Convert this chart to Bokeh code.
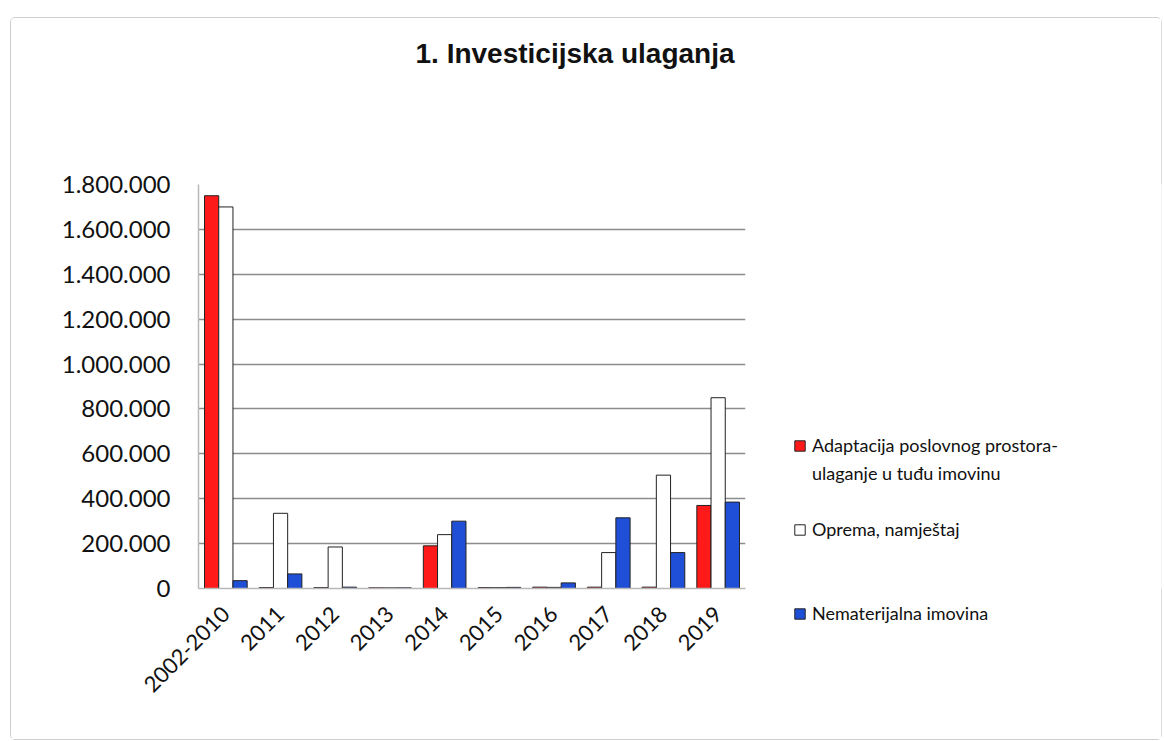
from bokeh.plotting import figure
from bokeh.layouts import row
from bokeh.models import FactorRange, FixedTicker, Legend, LegendItem, Range1d
from bokeh.transform import dodge
from bokeh.embed import file_html
from bokeh.resources import INLINE
import math

categories = ["2002-2010", "2011", "2012", "2013", "2014", "2015", "2016", "2017", "2018", "2019"]
adaptacija = [1750000, 4000, 4000, 3000, 190000, 4000, 6000, 6000, 6000, 370000]
oprema = [1700000, 335000, 185000, 3000, 240000, 4000, 5000, 160000, 505000, 850000]
nematerijalna = [35000, 65000, 6000, 3000, 300000, 5000, 25000, 315000, 160000, 385000]
legend_lines = ["Adaptacija poslovnog prostora-", "ulaganje u tuđu imovinu", "Oprema, namještaj", "Nematerijalna imovina"]
series_colors = ["#ff1a1a", "#ffffff", "#1f4fd6"]
y_ticks = [0, 200000, 400000, 600000, 800000, 1000000, 1200000, 1400000, 1600000, 1800000]
y_tick_labels = ["0", "200.000", "400.000", "600.000", "800.000", "1.000.000", "1.200.000", "1.400.000", "1.600.000", "1.800.000"]
chart_title = "1. Investicijska ulaganja"

data = dict(cat=categories, a=adaptacija, o=oprema, n=nematerijalna)

p = figure(x_range=FactorRange(*categories, range_padding=0), y_range=(0, 1800000),
           width=744, height=721, output_backend="svg", toolbar_location=None,
           min_border_left=187, min_border_right=10, min_border_top=166, min_border_bottom=151,
           title=chart_title + "\n \n ")

p.outline_line_color = None
p.border_fill_color = "white"
p.background_fill_color = "white"
p.title.align = "left"
p.title.offset = 217
p.title.standoff = 0
p.title.text_line_height = 1.87
p.title.text_font = "Liberation Sans"
p.title.text_font_style = "bold"
p.title.text_font_size = "28px"
p.title.text_color = "#111111"

for key, off, color in zip(["a", "o", "n"], [-0.26, 0.0, 0.26], series_colors):
    p.vbar(x=dodge("cat", off, range=p.x_range), top=key, width=0.26, source=data,
           fill_color=color, line_color="#222222", line_width=1)

p.xgrid.grid_line_color = None
p.ygrid.grid_line_color = "#8c8c8c"
p.ygrid.grid_line_width = 1.6
p.yaxis.ticker = FixedTicker(ticks=y_ticks)
p.yaxis.major_label_overrides = {t: l for t, l in zip(y_ticks, y_tick_labels)}
p.yaxis.axis_line_color = "#b8b8b8"
p.yaxis.axis_line_width = 1.5
p.yaxis.major_tick_out = 0
p.yaxis.major_tick_in = 0
p.yaxis.minor_tick_line_color = None
p.yaxis.major_label_standoff = 28
p.yaxis.major_label_text_font = "Lato"
p.yaxis.major_label_text_font_size = "24px"
p.yaxis.major_label_text_color = "#111111"

p.xaxis.axis_line_color = "#b8b8b8"
p.xaxis.axis_line_width = 1.5
p.xaxis.major_tick_line_color = None
p.xaxis.minor_tick_line_color = None
p.xaxis.major_label_orientation = math.pi / 4
p.xaxis.major_label_standoff = 16
p.xaxis.major_label_text_font = "Lato"
p.xaxis.major_label_text_font_size = "22px"
p.xaxis.major_label_text_color = "#111111"

# legend panel on the right, hosted in its own axis-less figure;
# its key renderers use the same data but lie outside its (empty) view
lg = figure(width=406, height=721, output_backend="svg", toolbar_location=None,
            x_axis_type=None, y_axis_type=None, min_border=0,
            x_range=Range1d(-2, -1), y_range=Range1d(-2, -1))
lg.outline_line_color = None
lg.border_fill_color = "white"
lg.background_fill_color = "white"
keys = [lg.vbar(x=k, top=k, width=0.1, source=data, fill_color=c, line_color="#222222", line_width=1)
        for k, c in zip(["a", "o", "n"], series_colors)]
blank = lg.vbar(x="a", top="a", width=0.1, source=data, fill_alpha=0, line_alpha=0)

items = [LegendItem(label=legend_lines[0], renderers=[keys[0]]),
         LegendItem(label=legend_lines[1], renderers=[blank]),
         LegendItem(label=" ", renderers=[blank]),
         LegendItem(label=legend_lines[2], renderers=[keys[1]]),
         LegendItem(label=" ", renderers=[blank]),
         LegendItem(label=" ", renderers=[blank]),
         LegendItem(label=legend_lines[3], renderers=[keys[2]])]
legend = Legend(items=items, location=(38, -39), orientation="vertical",
                label_text_font="Lato", label_text_font_size="18px",
                label_text_color="#111111", label_height=28,
                glyph_width=13, glyph_height=13, spacing=0, label_standoff=6, padding=10,
                border_line_color=None, background_fill_alpha=0)
lg.add_layout(legend, "left")

layout = row(p, lg, margin=(17, 0, 0, 10),
             styles={"border": "1px solid #cfcfcf", "border-radius": "5px", "background": "white"})

open("out.html", "w").write(file_html(layout, INLINE))
